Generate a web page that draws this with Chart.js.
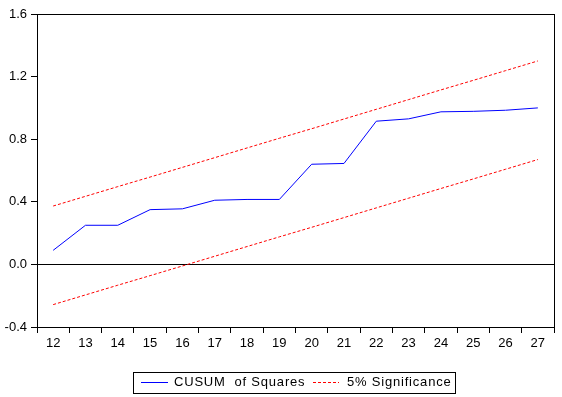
<!DOCTYPE html>
<html>
<head>
<meta charset="utf-8">
<script src="https://cdn.jsdelivr.net/npm/chart.js@4/dist/chart.umd.min.js"></script>
<style>
  html, body { margin: 0; padding: 0; background: #fff; }
  #wrap { width: 562px; height: 397px; }
</style>
</head>
<body>
<div id="wrap"><canvas id="chart" width="562" height="397"></canvas></div>
<script>
const periods = ['12', '13', '14', '15', '16', '17', '18', '19', '20', '21', '22', '23', '24', '25', '26', '27'];
const cusumSq = [0.09, 0.25, 0.25, 0.35, 0.355, 0.41, 0.415, 0.415, 0.64, 0.645, 0.915, 0.93, 0.975, 0.978, 0.985, 1.0];
const upperBand = [0.373, 0.435, 0.497, 0.558, 0.620, 0.682, 0.744, 0.806, 0.867, 0.929, 0.991, 1.053, 1.115, 1.176, 1.238, 1.300];
const lowerBand = [-0.257, -0.195, -0.133, -0.072, -0.010, 0.052, 0.114, 0.176, 0.237, 0.299, 0.361, 0.423, 0.485, 0.546, 0.608, 0.670];
const seriesNames = ['CUSUM  of Squares', '5% Significance'];

const FONT = '13px "Liberation Sans", Arial, sans-serif';

// frame around the plot + EViews style legend box
const frameAndLegend = {
  id: 'frameAndLegend',
  afterDraw(chart) {
    const ctx = chart.ctx;
    const a = chart.chartArea;
    ctx.save();
    ctx.strokeStyle = '#000';
    ctx.lineWidth = 1;
    ctx.strokeRect(Math.round(a.left) + 0.5, Math.round(a.top) + 0.5,
      Math.round(a.right - a.left), Math.round(a.bottom - a.top));

    // legend
    ctx.strokeRect(133.5, 372.5, 322, 21);
    const y = 382.5;
    ctx.font = FONT;
    ctx.letterSpacing = '0.8px';
    ctx.fillStyle = '#000';
    ctx.textBaseline = 'middle';

    ctx.strokeStyle = '#0000ff';
    ctx.beginPath();
    ctx.moveTo(141, y); ctx.lineTo(168, y);
    ctx.stroke();
    ctx.fillText(seriesNames[0], 174, y);

    ctx.strokeStyle = '#ff0000';
    ctx.setLineDash([3, 2]);
    ctx.beginPath();
    ctx.moveTo(313, y); ctx.lineTo(339, y);
    ctx.stroke();
    ctx.setLineDash([]);
    ctx.fillText(seriesNames[1], 347, y);
    ctx.restore();
  }
};

new Chart(document.getElementById('chart').getContext('2d'), {
  type: 'line',
  data: {
    labels: periods,
    datasets: [
      {
        label: seriesNames[0],
        data: cusumSq,
        borderColor: '#0000ff',
        borderWidth: 1,
        pointRadius: 0,
        tension: 0
      },
      {
        label: seriesNames[1],
        data: upperBand,
        borderColor: '#ff0000',
        borderWidth: 1,
        borderDash: [3, 2],
        pointRadius: 0,
        tension: 0
      },
      {
        label: seriesNames[1],
        data: lowerBand,
        borderColor: '#ff0000',
        borderWidth: 1,
        borderDash: [3, 2],
        pointRadius: 0,
        tension: 0
      }
    ]
  },
  options: {
    responsive: false,
    animation: false,
    layout: { padding: { top: 14, right: 8, bottom: 40, left: 0 } },
    plugins: {
      legend: { display: false },
      tooltip: { enabled: false }
    },
    scales: {
      x: {
        offset: true,
        afterFit: scale => { scale.height = 30; },
        grid: {
          offset: true,
          drawOnChartArea: false,
          tickLength: 6,
          tickColor: '#000',
          color: '#000'
        },
        border: { display: true, color: '#000' },
        ticks: {
          color: '#000',
          font: { family: '"Liberation Sans", Arial, sans-serif', size: 13 },
          padding: 3,
          maxRotation: 0,
          autoSkip: false
        }
      },
      y: {
        min: -0.4,
        max: 1.6,
        afterFit: scale => { scale.width = 37; },
        grid: {
          drawOnChartArea: true,
          tickLength: 6,
          tickColor: '#000',
          color: c => (c.tick && c.tick.value === 0 ? '#000' : 'rgba(0,0,0,0)')
        },
        border: { display: true, color: '#000' },
        ticks: {
          stepSize: 0.4,
          color: '#000',
          font: { family: '"Liberation Sans", Arial, sans-serif', size: 13 },
          padding: 4,
          callback: v => Number(v).toFixed(1)
        }
      }
    }
  },
  plugins: [frameAndLegend]
});
</script>
</body>
</html>
